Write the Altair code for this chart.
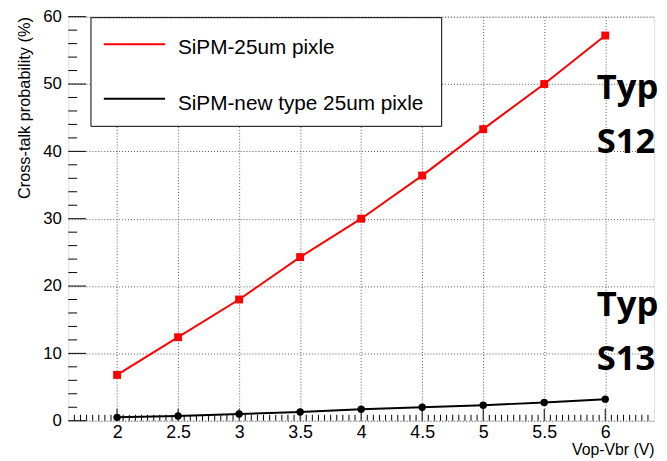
import altair as alt
import pandas as pd
import numpy as np

# ---- data ----
voltage = [2.0, 2.5, 3.0, 3.5, 4.0, 4.5, 5.0, 5.5, 6.0]
ct_25um = [6.8, 12.4, 18.0, 24.3, 30.0, 36.4, 43.3, 50.0, 57.2]
ct_new = [0.5, 0.7, 1.0, 1.3, 1.7, 2.0, 2.3, 2.7, 3.2]
series_names = ["SiPM-25um pixle", "SiPM-new type 25um pixle"]
series_colors = ["#ff0000", "#000000"]

x_major = [2.0, 2.5, 3.0, 3.5, 4.0, 4.5, 5.0, 5.5, 6.0]
x_minor = [round(v, 2) for v in np.arange(1.65, 6.40, 0.05) if round(v, 2) not in x_major]
y_major = [0, 10, 20, 30, 40, 50, 60]
y_minor = [v for v in range(2, 60, 2) if v % 10 != 0]

annot_lines = [("Typ", 83), ("S12", 138), ("Typ", 303), ("S13", 358)]

W, H = 593, 409
FONT = "Liberation Sans"

xs = alt.Scale(domain=[1.6, 6.4], nice=False, zero=False)
ys = alt.Scale(domain=[0, 60], nice=False)

df = pd.DataFrame({
    "v": voltage * 2,
    "ct": ct_25um + ct_new,
    "s": [series_names[0]] * len(voltage) + [series_names[1]] * len(voltage),
})

base_axes = alt.Chart(pd.DataFrame({"v": [2.0], "ct": [0]})).mark_point(opacity=0).encode(
    x=alt.X("v:Q", scale=xs, axis=alt.Axis(
        values=x_major, grid=True, gridDash=[1, 2], gridColor="#555", gridWidth=1,
        ticks=False, domain=False, labelFont=FONT, labelFontSize=18, labelColor="black",
        labelPadding=3, format="~g", title="Vop-Vbr (V)", titleFont=FONT, titleFontSize=16,
        titleFontWeight="normal", titleColor="black", titleAlign="right",
        titleAnchor="end", titleX=W, titleY=29, titleBaseline="middle")),
    y=alt.Y("ct:Q", scale=ys, axis=alt.Axis(
        values=y_major, grid=True, gridDash=[1, 2], gridColor="#555", gridWidth=1,
        ticks=False, domain=False, labelFont=FONT, labelFontSize=17, labelColor="black",
        labelPadding=7, title="Cross-talk probability (%)", titleFont=FONT,
        titleFontSize=16.5, titleFontWeight="normal", titleColor="black",
        titleAngle=-90, titleAlign="right", titleBaseline="middle",
        titleX=-44, titleY=0)),
)

# inward ticks
xmaj = alt.Chart(pd.DataFrame({"v": x_major})).mark_rule(color="black").encode(
    x=alt.X("v:Q", scale=xs), y=alt.value(H), y2=alt.value(H - 12))
xmin = alt.Chart(pd.DataFrame({"v": x_minor})).mark_rule(color="black").encode(
    x=alt.X("v:Q", scale=xs), y=alt.value(H), y2=alt.value(H - 6))
ymaj = alt.Chart(pd.DataFrame({"ct": y_major})).mark_rule(color="black").encode(
    y=alt.Y("ct:Q", scale=ys), x=alt.value(0), x2=alt.value(18))
ymin = alt.Chart(pd.DataFrame({"ct": y_minor})).mark_rule(color="black").encode(
    y=alt.Y("ct:Q", scale=ys), x=alt.value(0), x2=alt.value(9))

color = alt.Color("s:N", scale=alt.Scale(domain=series_names, range=series_colors), legend=None)

lines = alt.Chart(df).mark_line(strokeWidth=2).encode(
    x=alt.X("v:Q", scale=xs), y=alt.Y("ct:Q", scale=ys), color=color, detail="s:N")
pts_red = alt.Chart(df[df.s == series_names[0]]).mark_square(size=64, opacity=1, color="#ff0000").encode(
    x=alt.X("v:Q", scale=xs), y=alt.Y("ct:Q", scale=ys))
pts_blk = alt.Chart(df[df.s == series_names[1]]).mark_circle(size=56, opacity=1, color="black").encode(
    x=alt.X("v:Q", scale=xs), y=alt.Y("ct:Q", scale=ys))

one = pd.DataFrame({"a": [0]})
leg_box = alt.Chart(one).mark_rect(fill="white", stroke="black", strokeWidth=1).encode(
    x=alt.value(23), x2=alt.value(378), y=alt.value(1), y2=alt.value(111))
leg_df = pd.DataFrame({"name": series_names, "col": series_colors, "yy": [28, 83], "ty": [32, 88]})
leg_lines = alt.Chart(leg_df).mark_rule(strokeWidth=2).encode(
    x=alt.value(36), x2=alt.value(98), y=alt.Y("yy:Q", scale=None),
    color=alt.Color("col:N", scale=None))
leg_text = alt.Chart(leg_df).mark_text(align="left", baseline="middle", font=FONT, fontSize=21,
                                       color="black").encode(
    x=alt.value(111), y=alt.Y("ty:Q", scale=None), text="name:N")

ann_df = pd.DataFrame({"t": [a[0] for a in annot_lines], "yy": [a[1] for a in annot_lines]})
ann = alt.Chart(ann_df).mark_text(align="left", baseline="alphabetic", font="Open Sans",
                                  fontWeight="bold", fontSize=35, color="black").encode(
    x=alt.value(535), y=alt.Y("yy:Q", scale=None), text="t:N")

chart = alt.layer(base_axes, xmin, xmaj, ymin, ymaj, lines, pts_blk, pts_red,
                  leg_box, leg_lines, leg_text, ann).properties(
    width=W, height=H,
    autosize=alt.AutoSizeParams(type="none"),
    padding={"left": 61, "top": 6, "right": 5, "bottom": 38},
).configure_view(stroke="black", strokeWidth=1.2).configure(background="white")

chart.save("out.html", embed_options={"renderer": "svg", "actions": False})
